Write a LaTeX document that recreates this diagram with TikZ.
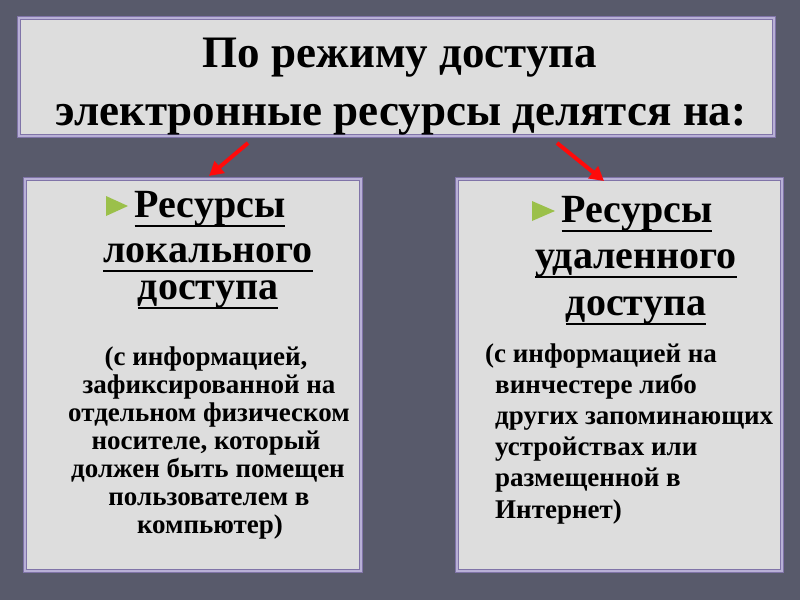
\documentclass[tikz,border=0pt]{standalone}
\usepackage{fontspec}
\setmainfont{Liberation Serif}
\usetikzlibrary{arrows.meta}
\newsavebox\ulbox
\newcommand\hul[1]{\sbox\ulbox{#1}\leavevmode\rlap{\usebox\ulbox}\rule[-10pt]{\wd\ulbox}{2.5pt}}
\definecolor{bgc}{RGB}{88,90,107}
\definecolor{boxfill}{RGB}{221,221,221}
\definecolor{borderdark}{RGB}{128,116,168}
\definecolor{borderlight}{RGB}{184,176,214}
\definecolor{bulletc}{RGB}{155,192,74}
\definecolor{arrowred}{RGB}{255,10,10}
\tikzset{
  panel/.style={fill=boxfill, draw=borderdark, line width=4pt, inner sep=0pt, outer sep=0pt,
    postaction={draw=borderlight, line width=1.2pt}},
  titletxt/.style={inner sep=0pt, anchor=base, font=\fontsize{45}{54}\selectfont\bfseries},
  headtxt/.style={inner sep=0pt, anchor=base, font=\fontsize{40}{46}\selectfont\bfseries},
  smalltxt/.style={inner sep=0pt, anchor=base, font=\fontsize{27}{28}\selectfont\bfseries},
  smallleft/.style={inner sep=0pt, anchor=base west, font=\fontsize{27}{28}\selectfont\bfseries},
  redarrow/.style={draw=arrowred, line width=4pt, -{Triangle[length=14pt,width=15pt]}},
}
\begin{document}
\begin{tikzpicture}[x=1pt,y=-1pt]
\useasboundingbox (0,0) rectangle (800,600);
\fill[bgc] (0,0) rectangle (800,600);

% panels
\node[panel, minimum width=755pt, minimum height=118pt] (title) at (396.5,77) {};
\node[panel, minimum width=336pt, minimum height=392pt] (left) at (193,375) {};
\node[panel, minimum width=325pt, minimum height=392pt] (right) at (619.5,375) {};

% title text
\node[titletxt] (t1) at (400,67) {По режиму доступа};
\node[titletxt] (t2) at (401,125) {электронные ресурсы делятся на:};

% arrows
\coordinate (l1) at (248,143);
\coordinate (l2) at (209,176);
\coordinate (r1) at (557,143);
\coordinate (r2) at (604,181);
\draw[redarrow] (l1) -- (l2);
\draw[redarrow] (r1) -- (r2);

% bullets
\fill[bulletc] (106,196) -- (128,206) -- (106,216) -- cycle;
\fill[bulletc] (532,201) -- (555,211) -- (532,221) -- cycle;

% left header
\node[headtxt] (lh1) at (210,217) {\hul{Ресурсы}};
\node[headtxt] (lh2) at (208,262) {\hul{локального}};
\node[headtxt] (lh3) at (208,299) {\hul{доступа}};

% right header
\node[headtxt] (rh1) at (637,222) {\hul{Ресурсы}};
\node[headtxt] (rh2) at (636,268) {\hul{удаленного}};
\node[headtxt] (rh3) at (636,315) {\hul{доступа}};

% left description
\node[smalltxt] (ld1) at (206,365) {(с информацией,};
\node[smalltxt] (ld2) at (209,393) {зафиксированной на};
\node[smalltxt] (ld3) at (209,421) {отдельном физическом};
\node[smalltxt] (ld4) at (206,449) {носителе, который};
\node[smalltxt] (ld5) at (208,477) {должен быть помещен};
\node[smalltxt] (ld6) at (209,505) {пользователем в};
\node[smalltxt] (ld7) at (210,533) {компьютер)};

% right description
\node[smallleft] (rd1) at (485,362) {(с информацией на};
\node[smallleft] (rd2) at (495,393) {винчестере либо};
\node[smallleft] (rd3) at (495,424) {других запоминающих};
\node[smallleft] (rd4) at (495,455) {устройствах или};
\node[smallleft] (rd5) at (495,486) {размещенной в};
\node[smallleft] (rd6) at (495,518) {Интернет)};
\end{tikzpicture}
\end{document}
